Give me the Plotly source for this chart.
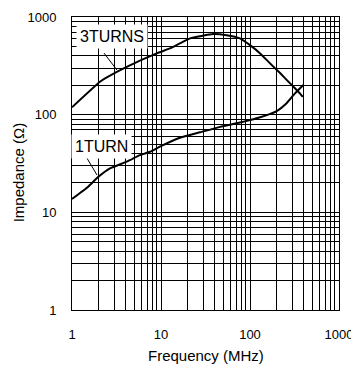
import numpy as np
import plotly.graph_objects as go

# 3 TURNS curve
f3 = [1.0, 2.06, 2.35, 4.12, 8.95, 12.6, 16.3, 21.2, 38.7, 54.6, 77, 100, 130, 168, 219, 282, 364, 392]
z3 = [119, 217, 235, 309, 424, 477, 537, 604, 668, 650, 604, 515, 424, 335, 265, 209, 165, 152]
# 1 TURN curve
f1 = [1.0, 1.52, 1.98, 2.67, 4.12, 5.81, 7.52, 9.7, 16.3, 27.5, 46.2, 77, 100, 130, 200, 258, 320, 398]
z1 = [13.7, 18.3, 23.1, 28.2, 33.0, 38.5, 41.7, 47.0, 58.0, 66.0, 75.0, 83.0, 88.0, 94.0, 109, 131, 165, 201]

labels = ["3TURNS", "1TURN"]
label_pos = [(2.78, 630), (2.12, 47.7)]
leaders = [((2.29, 427), (3.20, 286)), ((1.47, 36), (1.91, 24.1))]

FONT = "Liberation Sans, Arial, sans-serif"

fig = go.Figure()
for fx, zy in [(f3, z3), (f1, z1)]:
    fig.add_trace(go.Scatter(x=fx, y=zy, mode="lines",
                             line=dict(color="black", width=2, shape="spline", smoothing=0.4),
                             showlegend=False, hoverinfo="skip"))

for (a, b) in leaders:
    fig.add_trace(go.Scatter(x=[a[0], b[0]], y=[a[1], b[1]], mode="lines", line=dict(color="black", width=1),
                             showlegend=False, hoverinfo="skip"))

for txt, (lx, ly) in zip(labels, label_pos):
    fig.add_annotation(x=np.log10(lx), y=np.log10(ly), text=txt, showarrow=False,
                       bgcolor="white", borderpad=3, font=dict(family=FONT, size=16, color="black"))

axis_common = dict(type="log", dtick=1, showgrid=True, gridcolor="black", gridwidth=1,
                   minor=dict(dtick="D1", showgrid=True, gridcolor="black", gridwidth=1, ticks=""),
                   showline=True, linecolor="black", linewidth=1, mirror=True, ticks="",
                   tickfont=dict(family=FONT, size=13, color="black"), zeroline=False,
                   automargin=False, range=[0, 3],
                   tickvals=[1, 10, 100, 1000], ticktext=["1", "10", "100", "1000"],
                   ticklabelstandoff=12)

fig.update_xaxes(**axis_common)
fig.update_yaxes(**axis_common)

fig.add_annotation(xref="paper", yref="paper", x=0.5, y=-0.154, yanchor="middle", text="Frequency (MHz)",
                   showarrow=False, font=dict(family=FONT, size=15, color="black"))
fig.add_annotation(xref="paper", yref="paper", x=-0.202, y=0.47, xanchor="center", yanchor="middle",
                   text="Impedance (Ω)", textangle=-90, showarrow=False,
                   font=dict(family=FONT, size=15, color="black"))

# page body adds an 8px margin, so the figure is drawn 8px smaller and shifted
fig.update_layout(width=351, height=364, margin=dict(l=64, r=20, t=9, b=62, autoexpand=False),
                  plot_bgcolor="white", paper_bgcolor="white")

fig.write_html("out.html")
